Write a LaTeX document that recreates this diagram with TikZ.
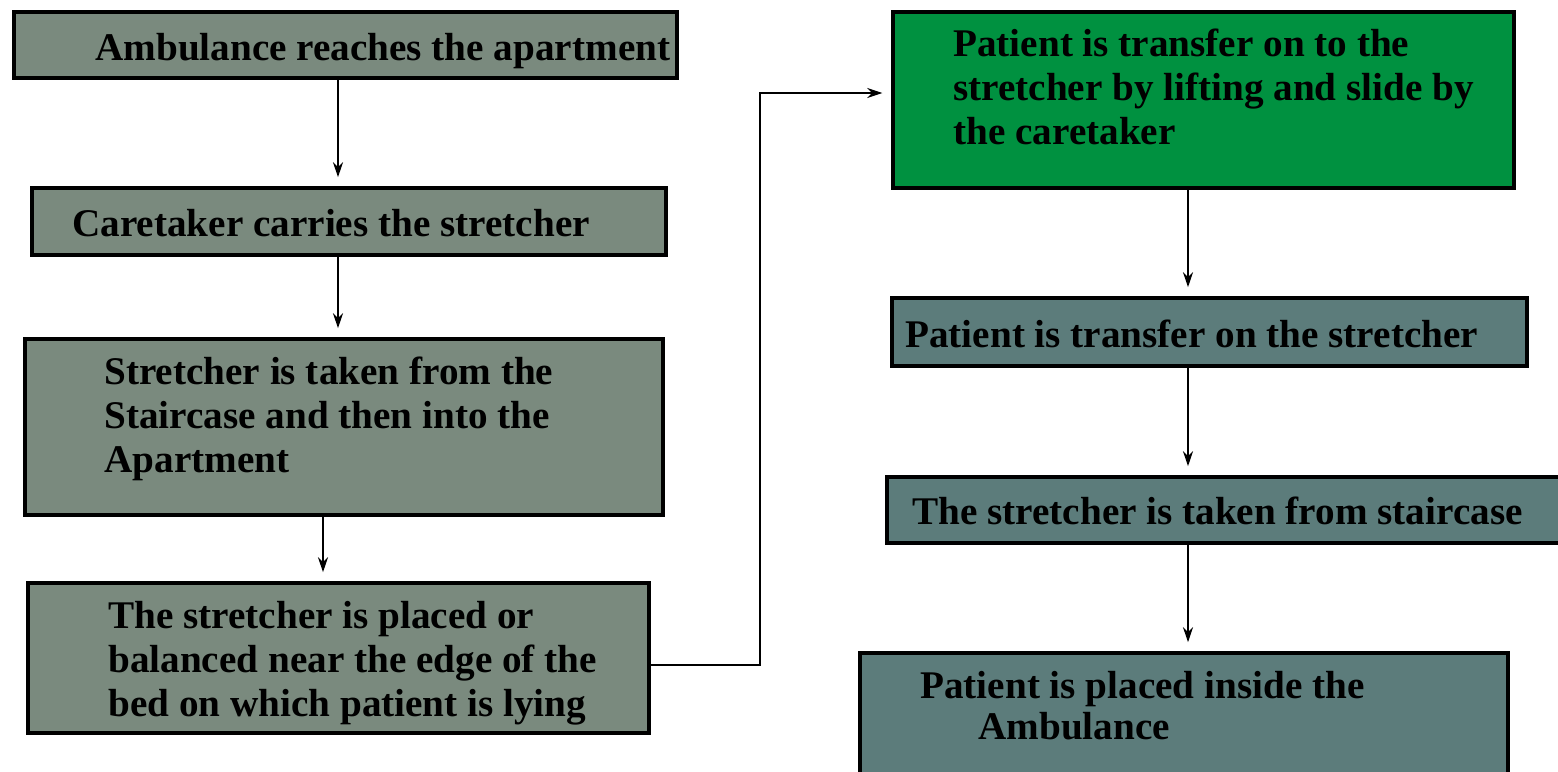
\documentclass[tikz,border=0pt]{standalone}
\usepackage{fontspec}
\setmainfont{Liberation Serif}
\usepackage{xcolor}
\usepackage{tikz}
\usetikzlibrary{arrows.meta,calc}
\usetikzlibrary{positioning}
\definecolor{leftfill}{RGB}{122,138,126}
\definecolor{rightfill}{RGB}{92,124,123}
\definecolor{greenfill}{RGB}{0,145,64}
\tikzset{>={Stealth[length=3mm,width=2mm]}, x=0.02cm, y=-0.02cm,
box/.style={rectangle, draw, line width=2.3pt, inner sep=0pt},
txt/.style={anchor=north west, align=left, inner sep=0pt, font=\fontsize{22.3}{25}\selectfont\bfseries},
flow/.style={->, line width=1.2pt, shorten >=5pt}}

\begin{document}
\begin{tikzpicture}
    \useasboundingbox (0,0) rectangle (1558,771);

    % Left column
    \node[box, fill=leftfill, minimum width=13.26cm, minimum height=1.32cm] (b1) at (345.5,45) {};
    \node[box, fill=leftfill, minimum width=12.68cm, minimum height=1.34cm] (b2) at (349,221.5) {};
    \node[box, fill=leftfill, minimum width=12.76cm, minimum height=3.52cm] (b3) at (344,427) {};
    \node[box, fill=leftfill, minimum width=12.42cm, minimum height=3.00cm] (b4) at (338.5,658) {};

    % Right column
    \node[box, fill=greenfill, minimum width=12.42cm, minimum height=3.52cm] (b5) at (1203.5,100) {};
    \node[box, fill=rightfill, minimum width=12.70cm, minimum height=1.36cm] (b6) at (1209.5,332) {};
    \node[box, fill=rightfill, minimum width=13.46cm, minimum height=1.32cm] (b7) at (1223.5,510) {};
    \node[box, fill=rightfill, minimum width=12.96cm, minimum height=2.92cm] (b8) at (1184,726) {};

    % Texts
    \node[txt] (t1) at (95,33) {Ambulance reaches the apartment};
    \node[txt] (t2) at (72,209) {Caretaker carries the stretcher};
    \node[txt] (t3) at (104,357) {Stretcher is taken from the\\Staircase and then into the\\Apartment};
    \node[txt] (t4) at (108,601) {The stretcher is placed or\\balanced near the edge of the\\bed on which patient is lying};
    \node[txt] (t5) at (953,29) {Patient is transfer on to the\\stretcher by lifting and slide by\\the caretaker};
    \node[txt] (t6) at (905,320) {Patient is transfer on the stretcher};
    \node[txt] (t7) at (912,497) {The stretcher is taken from staircase};
    \node[txt] (t8) at (920,671) {Patient is placed inside the\\[-1.5pt]\hspace*{1.16cm}Ambulance};

    % Edges
    \coordinate (bend) at (760,93);
    \draw[flow] (b1.south -| 338,0) -- (b2.north -| 338,0);
    \draw[flow] (b2.south -| 338,0) -- (b3.north -| 338,0);
    \draw[flow] (b3.south -| 323,0) -- (b4.north -| 323,0);
    \draw[flow, line width=0.85pt] (b4.east |- 0,665) -| (bend) -- (b5.west |- bend);
    \draw[flow] (b5.south -| 1188,0) -- (b6.north -| 1188,0);
    \draw[flow] (b6.south -| 1188,0) -- (b7.north -| 1188,0);
    \draw[flow] (b7.south -| 1188,0) -- (b8.north -| 1188,0);
  \end{tikzpicture}
\end{document}
